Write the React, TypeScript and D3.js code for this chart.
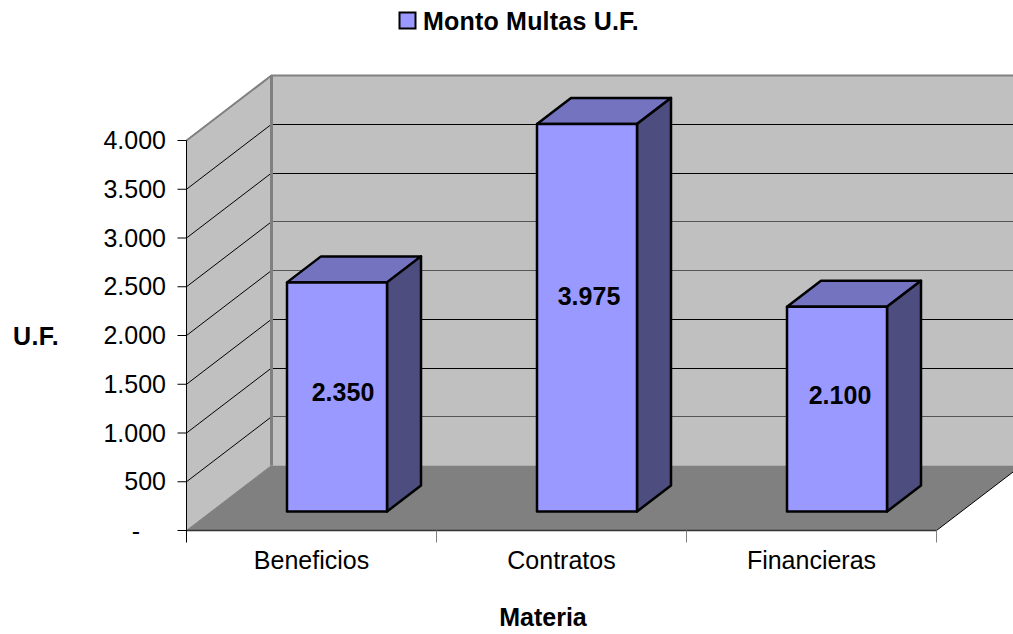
import React from "react";
import * as d3 from "d3";

const categories = ["Beneficios", "Contratos", "Financieras"];
const values = [2350, 3975, 2100];
const valueLabels = ["2.350", "3.975", "2.100"];
const yTicks = [0, 500, 1000, 1500, 2000, 2500, 3000, 3500, 4000];
const yTickLabels = ["-", "500", "1.000", "1.500", "2.000", "2.500", "3.000", "3.500", "4.000"];
const softGridTicks = [500, 2000, 2500];
const title = "Monto Multas U.F.";
const xTitle = "Materia";
const yTitle = "U.F.";

const W = 1013, H = 634;
const font = "'Liberation Sans', Arial, sans-serif";
const x = d3.scaleBand<string>().domain(categories).range([186.5, 936.5]);
const y = d3.scaleLinear().domain([0, 4000]).range([530.5, 140.5]);
const wallDx = 85, wallDy = -65;
const barInsetX = 100.5, barWidth = 100, barInsetY = -19, barDx = 34, barDy = -26;
const fs = 25;
const labelShift = [[0.5, -4], [-3.5, -21], [-2.5, -14]];

const pts = (p: number[][]) => p.map((q) => q.join(",")).join(" ");
// Back-wall gridlines sit on whole pixels, as the diagonal meets them.
const snap = (v: number) => Math.round(v) + 0.5;

export default function App() {
  const x0 = x.range()[0], x1 = x.range()[1];
  const y0 = y(0), yTop = y(4000);
  return (
    <svg width={W} height={H} viewBox={`0 0 ${W} ${H}`} style={{ position: "absolute", left: 0, top: 0 }} fontFamily={font} fill="#000">
      <rect x={x0 + wallDx} y={yTop + wallDy} width={W} height={y0 - yTop} fill="#c0c0c0" />
      <polygon points={pts([[x0, yTop], [x0 + wallDx, yTop + wallDy], [x0 + wallDx, y0 + wallDy], [x0, y0]])} fill="#c0c0c0" />
      <polygon points={pts([[x0, y0], [x0 + wallDx, y0 + wallDy], [x1 + wallDx, y0 + wallDy], [x1, y0]])} fill="#808080" />
      {yTicks.filter((t) => t > 0 && t < 4000).map((t) => (
        <g key={t} fill="none" strokeWidth={1}>
          <line x1={x0} y1={y(t)} x2={x0 + wallDx} y2={y(t) + wallDy} stroke="#000" />
          <line x1={x0 + wallDx} y1={snap(y(t) + wallDy - 0.5)} x2={W + 10} y2={snap(y(t) + wallDy - 0.5)} stroke={softGridTicks.includes(t) ? "#555" : "#000"} />
        </g>
      ))}
      <polyline points={pts([[x0, yTop], [x0 + wallDx, yTop + wallDy], [W + 10, yTop + wallDy]])} fill="none" stroke="#808080" strokeWidth={2} />
      <line x1={x0 + wallDx} x2={x0 + wallDx} y1={yTop + wallDy} y2={y0 + wallDy} stroke="#808080" strokeWidth={3} />
      <line x1={x0} y1={y0} x2={x0 + wallDx} y2={y0 + wallDy} stroke="#808080" strokeWidth={1} />
      <line x1={x1} y1={y0} x2={x1 + wallDx} y2={y0 + wallDy} stroke="#000" strokeWidth={1} />
      <line x1={x0} x2={x0} y1={yTop} y2={y0 + 12} stroke="#000" strokeWidth={1} />
      <line x1={x0} x2={x1} y1={y0} y2={y0} stroke="#333" strokeWidth={1.5} />
      {yTicks.map((t, i) => (
        <g key={t}>
          <line x1={x0 - 9} x2={x0} y1={y(t)} y2={y(t)} stroke="#000" strokeWidth={1} />
          <text x={t === 0 ? 140 : 166} y={y(t) + (t === 0 ? 9.5 : 8.5)} textAnchor="end" fontSize={fs}>{yTickLabels[i]}</text>
        </g>
      ))}
      {categories.map((c) => (
        <line key={c} x1={x(c)! + x.bandwidth()} x2={x(c)! + x.bandwidth()} y1={y0} y2={y0 + 12} stroke="#808080" strokeWidth={1} />
      ))}
      {categories.map((c) => (
        <text key={c} x={x(c)! + x.bandwidth() / 2} y={569} textAnchor="middle" fontSize={fs}>{c}</text>
      ))}
      {categories.map((c, i) => {
        const left = x(c)! + barInsetX;
        const right = left + barWidth;
        const bottom = y0 + barInsetY;
        const top = bottom - (y0 - y(values[i]));
        return (
          <g key={c} stroke="#000" strokeWidth={2.5} strokeLinejoin="round">
            <polygon points={pts([[left, top], [left + barDx, top + barDy], [right + barDx, top + barDy], [right, top]])} fill="#7373bf" />
            <polygon points={pts([[right, top], [right + barDx, top + barDy], [right + barDx, bottom + barDy], [right, bottom]])} fill="#4d4d80" />
            <rect x={left} y={top} width={barWidth} height={bottom - top} fill="#9999ff" />
            <text x={(left + right) / 2 + 5.5 + labelShift[i][0]} y={(top + bottom) / 2 + 8.5 + labelShift[i][1]} textAnchor="middle" fontSize={fs} fontWeight="bold" stroke="none" fill="#000">{valueLabels[i]}</text>
          </g>
        );
      })}
      <text x={543} y={626} textAnchor="middle" fontSize={fs} fontWeight="bold">{xTitle}</text>
      <text x={36} y={345} textAnchor="middle" fontSize={fs} fontWeight="bold" letterSpacing={0.4}>{yTitle}</text>
      <rect x={399.5} y={12.5} width={16} height={16} fill="#9999ff" stroke="#000" strokeWidth={2} />
      <text x={423} y={30} fontSize={fs} fontWeight="bold" letterSpacing={0.2}>{title}</text>
    </svg>
  );
}
